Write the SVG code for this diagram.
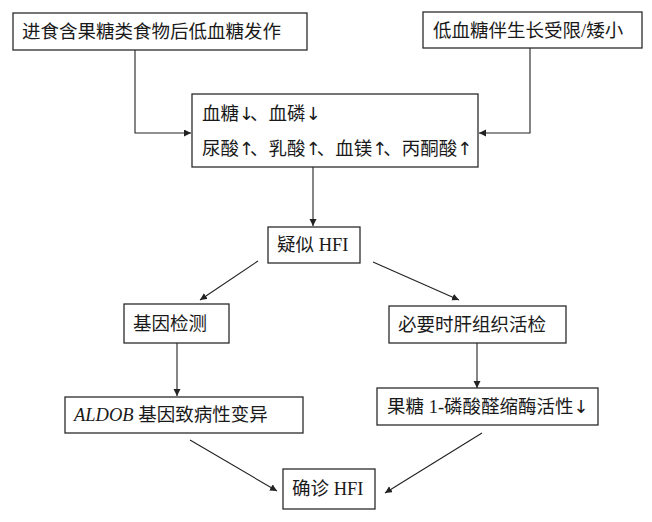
<svg xmlns="http://www.w3.org/2000/svg" width="652" height="522" viewBox="0 0 652 522">
<style>
.box{fill:#fff;stroke:#2b2b2b;stroke-width:1.3}
.t{font-family:"Liberation Serif","Noto Sans CJK SC",serif;font-size:18.5px;fill:#1a1a1a}
.ar{font-family:"DejaVu Sans",sans-serif;font-size:18px;letter-spacing:-4px}
.c{fill:none;stroke:#222;stroke-width:1.1}
</style>
<defs>
<marker id="ah" markerUnits="userSpaceOnUse" markerWidth="8" markerHeight="8" refX="7" refY="3.5" orient="auto">
<path d="M0,0 L7,3.5 L0,7 Z" fill="#222"/>
</marker>
</defs>
<rect width="652" height="522" fill="#fff"/>
<g id="connectors">
<polyline class="c" points="135,50 135,133 191,133" marker-end="url(#ah)"/>
<polyline class="c" points="530,48 530,133 479,133" marker-end="url(#ah)"/>
<line class="c" x1="313" y1="167" x2="313" y2="226" marker-end="url(#ah)"/>
<line class="c" x1="258" y1="261" x2="200" y2="300" marker-end="url(#ah)"/>
<line class="c" x1="373" y1="262" x2="459" y2="300" marker-end="url(#ah)"/>
<line class="c" x1="177" y1="343" x2="177" y2="396" marker-end="url(#ah)"/>
<line class="c" x1="477" y1="343" x2="477" y2="388" marker-end="url(#ah)"/>
<line class="c" x1="190" y1="440" x2="277" y2="491" marker-end="url(#ah)"/>
<line class="c" x1="482" y1="433" x2="385" y2="493" marker-end="url(#ah)"/>
</g>
<g id="n1"><rect class="box" x="13" y="13" width="294" height="37"/><text class="t" x="22" y="38">进食含果糖类食物后低血糖发作</text></g>
<g id="n2"><rect class="box" x="423" y="12" width="219" height="36"/><text class="t" x="433" y="37">低血糖伴生长受限/矮小</text></g>
<g id="n3"><rect class="box" x="192" y="94" width="286" height="73"/><text class="t" x="202" y="120">血糖<tspan class="ar">↓</tspan>、血磷<tspan class="ar">↓</tspan></text><text class="t" x="202" y="155">尿酸<tspan class="ar">↑</tspan>、乳酸<tspan class="ar">↑</tspan>、血镁<tspan class="ar">↑</tspan>、丙酮酸<tspan class="ar">↑</tspan></text></g>
<g id="n4"><rect class="box" x="268" y="227" width="92" height="36"/><text class="t" x="277" y="251">疑似 HFI</text></g>
<g id="n5"><rect class="box" x="124" y="304" width="105" height="39"/><text class="t" x="133" y="330">基因检测</text></g>
<g id="n6"><rect class="box" x="389" y="306" width="177" height="37"/><text class="t" x="398" y="331">必要时肝组织活检</text></g>
<g id="n7"><rect class="box" x="65" y="397" width="238" height="36"/><text class="t" x="74" y="421"><tspan font-style="italic">ALDOB</tspan> 基因致病性变异</text></g>
<g id="n8"><rect class="box" x="377" y="388" width="221" height="37"/><text class="t" x="387" y="413">果糖 1-磷酸醛缩酶活性<tspan class="ar">↓</tspan></text></g>
<g id="n9"><rect class="box" x="283" y="469" width="92" height="40"/><text class="t" x="292" y="495">确诊 HFI</text></g>
</svg>
